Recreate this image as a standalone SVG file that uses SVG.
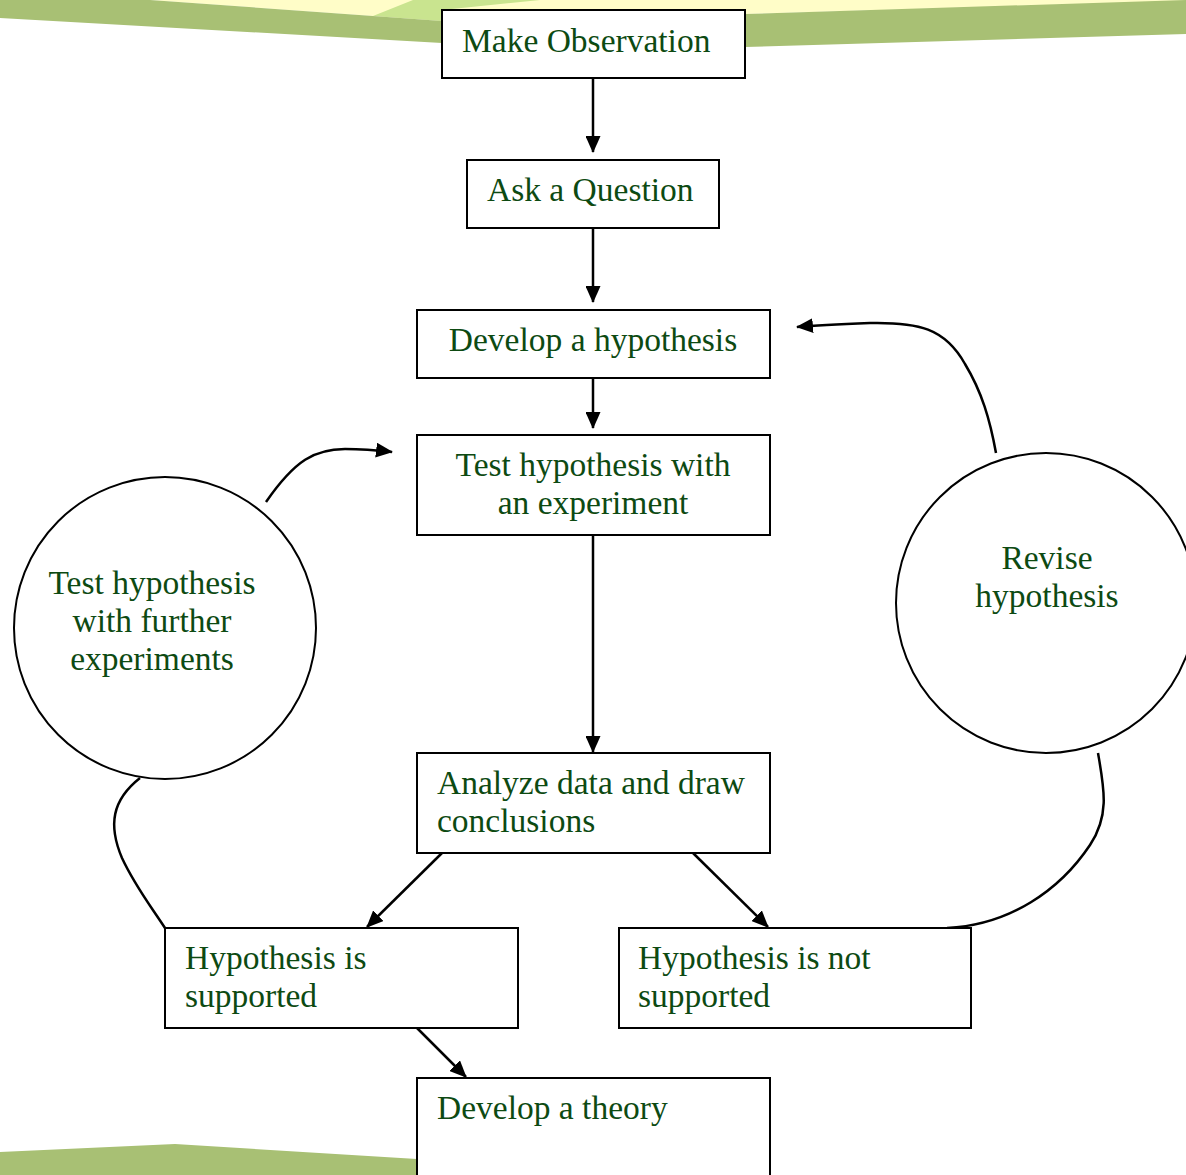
<svg xmlns="http://www.w3.org/2000/svg" width="1186" height="1175" viewBox="0 0 1186 1175">
<style>
.box{fill:#fff;stroke:#000;stroke-width:2}
.c{fill:#fff;stroke:#000;stroke-width:2}
.t{font-family:"Liberation Serif","Times New Roman",serif;font-size:33.5px;fill:#0d4a12}
.m{text-anchor:middle}
.ln{fill:none;stroke:#000;stroke-width:2.5}
</style>
<defs>
<marker id="ah" markerUnits="userSpaceOnUse" markerWidth="17" markerHeight="15" refX="16" refY="7.5" orient="auto">
<path d="M0,0 L17,7.5 L0,15 z" fill="#000"/>
</marker>
</defs>
<rect width="1186" height="1175" fill="#fff"/>
<g id="background">
<polygon points="150,0 1186,0 1186,1 745,14 442,21 373,16" fill="#fffdc8"/>
<polygon points="373,16 413,0 540,0 442,10 442,21" fill="#c9e48f"/>
<polygon points="0,0 150,0 373,16 442,21 745,14 1186,0 1186,34 745,47 442,43 0,18" fill="#a8c074"/>
<polygon points="0,1152 175,1144 417,1159 417,1175 0,1175" fill="#a8c074"/>
</g>
<g id="connectors">
<line class="ln" x1="593" y1="78" x2="593" y2="152" marker-end="url(#ah)"/>
<line class="ln" x1="593" y1="228" x2="593" y2="302" marker-end="url(#ah)"/>
<line class="ln" x1="593" y1="378" x2="593" y2="428" marker-end="url(#ah)"/>
<line class="ln" x1="593" y1="535" x2="593" y2="752" marker-end="url(#ah)"/>
<line class="ln" x1="442" y1="853" x2="367" y2="927" marker-end="url(#ah)"/>
<line class="ln" x1="693" y1="853" x2="768" y2="927" marker-end="url(#ah)"/>
<line class="ln" x1="417" y1="1028" x2="466" y2="1077" marker-end="url(#ah)"/>
<path class="ln" d="M266,502 C295,460 315,449 345,449 C362,449 375,450 392,452" marker-end="url(#ah)"/>
<path class="ln" d="M996,453 C990,420 982,392 965,364 C945,328 918,322 870,323 C845,324 820,325 797,327" marker-end="url(#ah)"/>
<path class="ln" d="M140,778 C112,800 108,825 122,858 C135,886 150,905 165,928"/>
<path class="ln" d="M1098,753 C1104,788 1110,815 1090,845 C1060,890 1010,925 947,928"/>
</g>
<g id="make-observation">
<rect class="box" x="442" y="10" width="303" height="68"/>
<text class="t" x="462" y="52">Make Observation</text>
</g>
<g id="ask-question">
<rect class="box" x="467" y="160" width="252" height="68"/>
<text class="t" x="487" y="201">Ask a Question</text>
</g>
<g id="develop-hypothesis">
<rect class="box" x="417" y="310" width="353" height="68"/>
<text class="t m" x="593" y="351">Develop a hypothesis</text>
</g>
<g id="test-hypothesis">
<rect class="box" x="417" y="435" width="353" height="100"/>
<text class="t m" x="593" y="476">Test hypothesis with</text>
<text class="t m" x="593" y="514">an experiment</text>
</g>
<g id="analyze-data">
<rect class="box" x="417" y="753" width="353" height="100"/>
<text class="t" x="437" y="794">Analyze data and draw</text>
<text class="t" x="437" y="832">conclusions</text>
</g>
<g id="hypothesis-supported">
<rect class="box" x="165" y="928" width="353" height="100"/>
<text class="t" x="185" y="969">Hypothesis is</text>
<text class="t" x="185" y="1007">supported</text>
</g>
<g id="hypothesis-not-supported">
<rect class="box" x="619" y="928" width="352" height="100"/>
<text class="t" x="638" y="969">Hypothesis is not</text>
<text class="t" x="638" y="1007">supported</text>
</g>
<g id="develop-theory">
<rect class="box" x="417" y="1078" width="353" height="110"/>
<text class="t" x="437" y="1119">Develop a theory</text>
</g>
<g id="further-experiments">
<circle class="c" cx="165" cy="628" r="151"/>
<text class="t m" x="152" y="594">Test hypothesis</text>
<text class="t m" x="152" y="632">with further</text>
<text class="t m" x="152" y="670">experiments</text>
</g>
<g id="revise-hypothesis">
<circle class="c" cx="1046" cy="603" r="150"/>
<text class="t m" x="1047" y="569">Revise</text>
<text class="t m" x="1047" y="607">hypothesis</text>
</g>
</svg>
